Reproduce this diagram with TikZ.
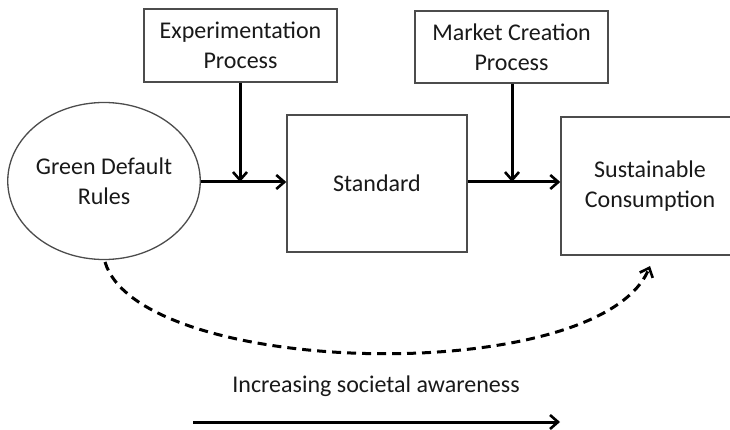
\documentclass[tikz,border=0pt]{standalone}
\usepackage{fontspec}
\setmainfont{Carlito}
\usetikzlibrary{arrows.meta,shapes.geometric}
\begin{document}
\begin{tikzpicture}[x=1pt,y=-1pt,
  every node/.style={font=\fontsize{24}{30}\selectfont, text=black!90, align=center, inner sep=0pt},
  boxnode/.style={draw=black!70, line width=1.5pt, rectangle},
  ovalnode/.style={draw=black!70, line width=1.3pt, ellipse},
  flow/.style={line width=3pt, -{Straight Barb[length=8pt,width=14pt,line width=2.6pt]}},
  dashflow/.style={line width=3pt, dash pattern=on 9pt off 6pt, -{Straight Barb[length=8pt,width=14pt,line width=2.6pt]}}]
\useasboundingbox (0,0) rectangle (730,430);
\node[ovalnode, minimum width=182pt, minimum height=157pt] (gdr) at (104,181) {Green Default\\Rules};
\node[boxnode, minimum width=193pt, minimum height=73pt] (exp) at (240.5,45.5) {Experimentation\\Process};
\node[boxnode, minimum width=180pt, minimum height=137pt] (std) at (377,183.5) {Standard};
\node[boxnode, minimum width=193pt, minimum height=72pt] (mkt) at (511.5,47) {Market Creation\\Process};
\node[boxnode, minimum width=178pt, minimum height=138pt] (sus) at (650,186) {Sustainable\\Consumption};
\coordinate (j1) at (240,182);
\coordinate (j2) at (512,182);
\draw[flow] (gdr.east |- j1) -- (std.west |- j1);
\draw[flow] (exp.south -| j1) -- (j1);
\draw[flow] (std.east |- j2) -- (sus.west |- j2);
\draw[flow] (mkt.south -| j2) -- (j2);
\coordinate (ds) at (105,262);
\coordinate (de) at (650,266);
\draw[dashflow] (ds) .. controls (140,378) and (600,388) .. (de);
\node (aw) at (376,386) {Increasing societal awareness};
\coordinate (a1) at (193,422);
\coordinate (a2) at (560,422);
\draw[flow] (a1) -- (a2);
\end{tikzpicture}
\end{document}
